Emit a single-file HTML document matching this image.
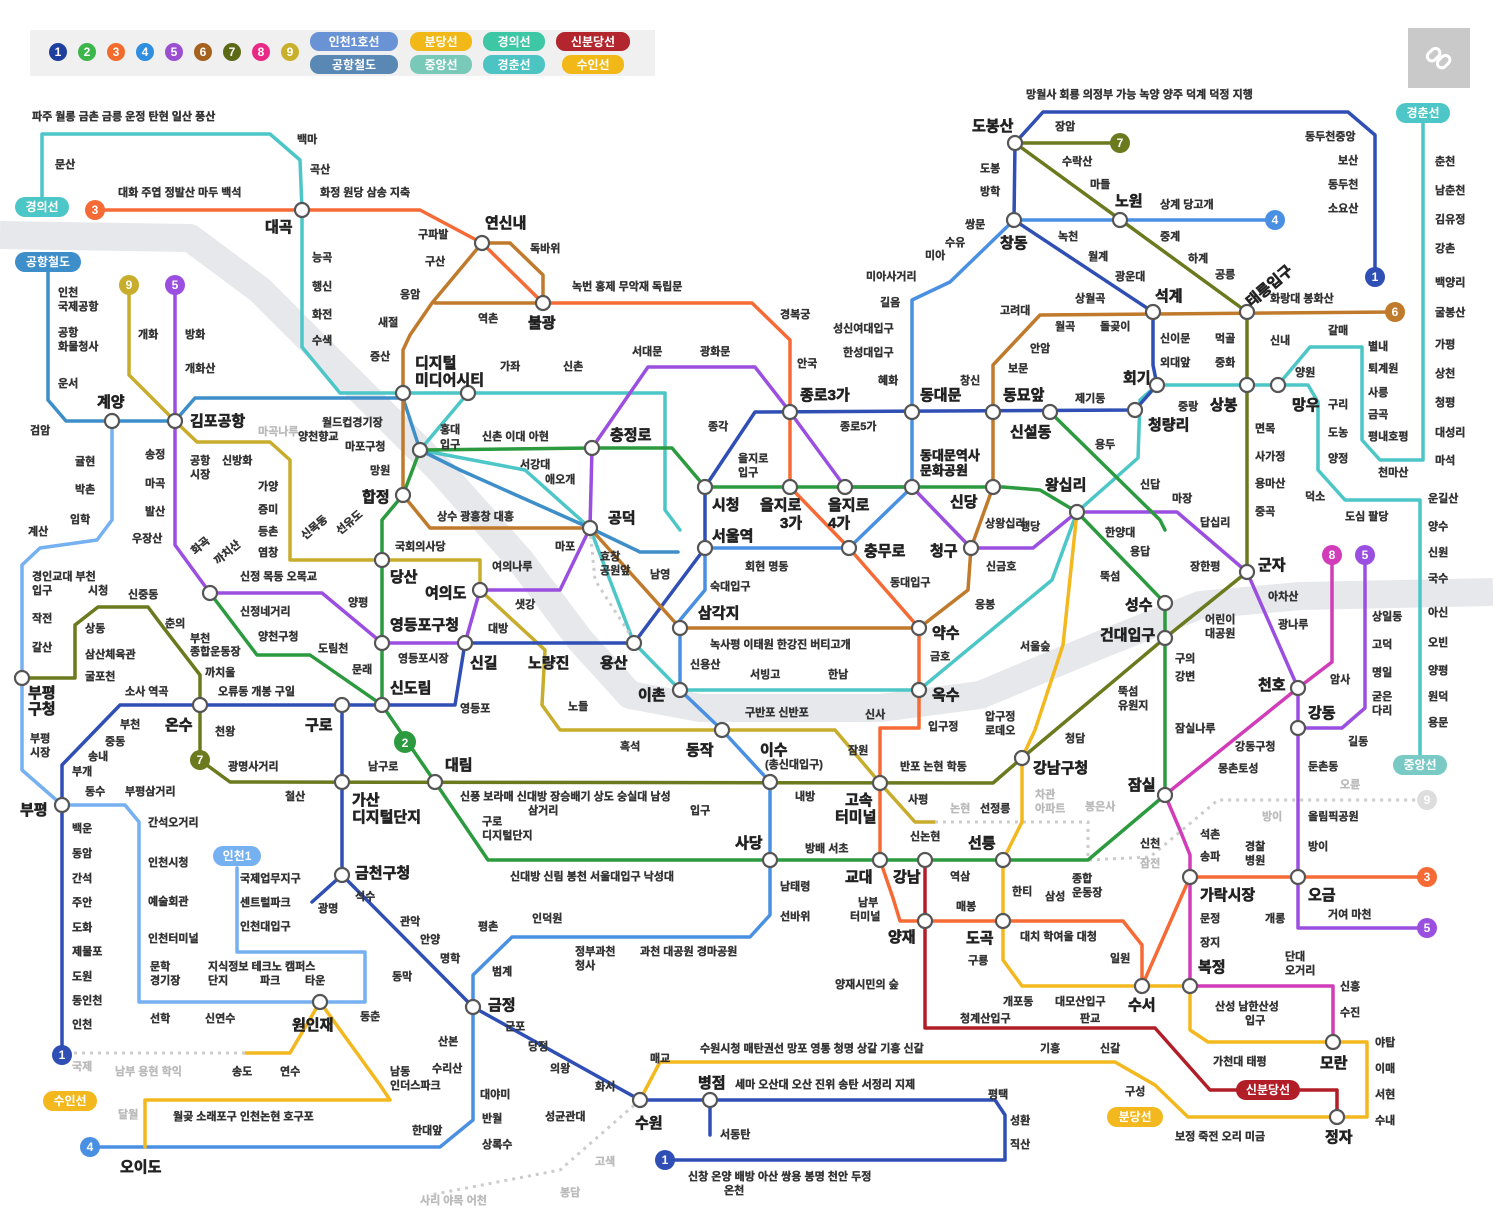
<!DOCTYPE html>
<html><head><meta charset="utf-8"><style>
html,body{margin:0;padding:0;background:#fff;}
svg{display:block;}
text{font-family:"Liberation Sans","Noto Sans CJK KR","NanumGothic",sans-serif;font-weight:bold;fill:#333;font-size:11px;stroke:#333;stroke-width:0.35;}
.b text, text.b{font-size:15px;fill:#222;stroke:#222;stroke-width:0.6;}
text.g{fill:#bbb;stroke:#bbb;}
text.w{fill:#fff;stroke:none;font-size:12px;text-anchor:middle;}
.l{fill:none;stroke-width:3.5;stroke-linejoin:round;stroke-linecap:round;}
.t{fill:#fff;stroke:#555;stroke-width:2.2;}
</style></head><body>
<svg width="1493" height="1209" viewBox="0 0 1493 1209" xmlns="http://www.w3.org/2000/svg">
<polyline points="0,235 190,238 260,290 350,380 440,470 520,560 580,640 630,695 700,708 880,708 980,695 1100,645 1200,605 1300,596 1493,592" fill="none" stroke="#e6e8eb" stroke-width="28" stroke-linejoin="round"/>

<rect x="30" y="30" width="625" height="46" fill="#f0f0f0"/>
<g>
<circle cx="58" cy="52" r="9" fill="#1e3f9e"/><text x="58" y="56" class="w">1</text>
<circle cx="87" cy="52" r="9" fill="#3cb54a"/><text x="87" y="56" class="w">2</text>
<circle cx="116" cy="52" r="9" fill="#f26b2a"/><text x="116" y="56" class="w">3</text>
<circle cx="145" cy="52" r="9" fill="#2f8ee0"/><text x="145" y="56" class="w">4</text>
<circle cx="174" cy="52" r="9" fill="#9b4fd0"/><text x="174" y="56" class="w">5</text>
<circle cx="203" cy="52" r="9" fill="#a5611e"/><text x="203" y="56" class="w">6</text>
<circle cx="232" cy="52" r="9" fill="#5c6a17"/><text x="232" y="56" class="w">7</text>
<circle cx="261" cy="52" r="9" fill="#e82a86"/><text x="261" y="56" class="w">8</text>
<circle cx="290" cy="52" r="9" fill="#c9b02c"/><text x="290" y="56" class="w">9</text>
<rect x="310" y="32" width="88" height="19" rx="9" fill="#6a93d6"/><text x="354" y="46" class="w">인천1호선</text>
<rect x="310" y="55" width="88" height="19" rx="9" fill="#5a88b5"/><text x="354" y="69" class="w">공항철도</text>
<rect x="410" y="32" width="62" height="19" rx="9" fill="#f2b818"/><text x="441" y="46" class="w">분당선</text>
<rect x="410" y="55" width="62" height="19" rx="9" fill="#79c9b9"/><text x="441" y="69" class="w">중앙선</text>
<rect x="483" y="32" width="62" height="19" rx="9" fill="#3ec7a5"/><text x="514" y="46" class="w">경의선</text>
<rect x="483" y="55" width="62" height="19" rx="9" fill="#4cc4c4"/><text x="514" y="69" class="w">경춘선</text>
<rect x="556" y="32" width="74" height="19" rx="9" fill="#b3262e"/><text x="593" y="46" class="w">신분당선</text>
<rect x="562" y="55" width="62" height="19" rx="9" fill="#f2b818"/><text x="593" y="69" class="w">수인선</text>
</g>
<rect x="1408" y="28" width="62" height="60" fill="#c9c9c9"/>
<g fill="none" stroke="#fff" stroke-width="3" stroke-linecap="round"><rect x="1427" y="50" width="14" height="9" rx="4.5" transform="rotate(-45 1434 55)"/><rect x="1437" y="57" width="14" height="9" rx="4.5" transform="rotate(-45 1444 62)"/></g>

<g class="l" stroke="#4cc6c6">
<polyline points="42,197 42,134 270,134 300,160 302,210 302,347 340,393 665,393 665,510 680,530"/>
<polyline points="468,393 420,450 525,470 590,528 634,643 680,690 919,690 1052,580 1077,512 1138,458 1140,400 1157,385 1278,385 1308,385 1318,402 1318,470 1345,500 1420,500 1420,760"/>
<polyline points="1278,385 1310,347 1362,347 1362,440 1380,460 1423,460 1423,122"/>
</g>
<polyline class="l" stroke="#3d8ec9" points="48,272 48,400 66,421 175,421 195,398 403,398 420,450 460,470 590,528 640,552 678,552"/>
<polyline class="l" stroke="#75b0f0" stroke-width="3" points="112,421 112,520 97,540 40,548 22,565 22,770 62,805 125,805 139,822 139,1002 365,1002 365,952 237,952 237,868"/>
<polyline class="l" stroke="#c8ac2c" points="129,290 129,375 175,421 197,442 270,442 290,460 290,560 480,560 480,590 545,650 542,705 560,730 835,730 880,783 915,822 935,822"/>
<polyline fill="none" stroke="#ccc" stroke-width="3" stroke-dasharray="3,5" points="935,822 1088,822 1088,860 1150,857 1218,800 1420,800"/>
<g class="l" stroke="#2f4fb5">
<polyline points="1375,275 1375,135 1348,112 1043,112 1015,143 1014,220 1153,312 1153,365 1157,385 1135,410 755,412 705,487 705,548 634,643 465,643 455,705 120,705 62,765 62,1055"/>
<polyline points="342,705 342,875 473,1007 640,1100 710,1100 710,1135"/>
<polyline points="342,875 312,902"/>
<polyline points="710,1100 995,1100 1005,1115 1005,1160 665,1160"/>
</g>
<polyline class="l" stroke="#4a90e2" points="1275,220 1014,220 950,282 912,300 912,487 849,548 705,548 705,590 680,620 680,690 722,730 770,782 770,915 750,937 512,937 473,975 473,1120 440,1147 90,1147"/>
<polyline class="l" stroke="#f56a35" points="95,210 420,210 482,243 543,303 752,303 790,340 790,487 849,548 919,628 919,728 880,728 880,860 893,898 900,921 1123,921 1142,945 1142,986 1190,877 1427,877"/>
<g class="l" stroke="#c07a2b">
<polyline points="482,243 510,243 543,275 543,303 435,303"/>
<polyline points="482,243 432,303 410,335 403,350 403,495 430,528 590,528 680,628 919,628 968,590 971,548 993,487 993,365 1040,315 1395,312"/>
</g>
<polyline class="l" stroke="#9b4fe0" points="175,290 175,545 210,593 322,593 382,643 465,643 480,590 560,590 590,528 592,448 648,367 755,367 790,412 845,487 912,487 971,548 1033,548 1077,512 1177,512 1247,572 1298,688 1298,728 1342,728 1365,708 1365,560"/>
<polyline class="l" stroke="#9b4fe0" points="1298,728 1298,928 1427,928"/>
<g class="l" stroke="#2c9a3f">
<polyline points="705,487 1003,487 1040,490 1077,512 1165,603 1165,795 1088,860 880,860 770,860 488,860 435,782 382,705 382,560 382,520 403,495 420,450 592,448 672,448 705,487"/>
<polyline points="1050,412 1160,520 1165,530"/>
<polyline points="210,593 257,655 310,655 382,705"/>
</g>
<polyline class="l" stroke="#6b7a1e" points="1120,143 1015,143 1247,312 1247,572 1165,638 1022,758 993,783 230,782 200,760 200,705 200,675 163,627 148,607 98,607 75,625 75,678 22,678"/>
<polyline class="l" stroke="#d13cb8" points="1332,560 1332,662 1298,688 1165,795 1180,830 1190,855 1190,986 1333,986 1333,1042"/>
<polyline class="l" stroke="#f3b81e" points="1077,512 1063,645 1035,730 1022,758 1022,822 1003,860 1003,960 1022,986 1190,986 1190,1030 1208,1042 1367,1042 1367,1117 1188,1117 1155,1085 1115,1062 660,1062 640,1100"/>
<polyline class="l" stroke="#f3b81e" points="320,1002 290,1053 245,1053"/>
<polyline class="l" stroke="#f3b81e" points="320,1002 380,1085 390,1100 145,1100 145,1147"/>
<polyline fill="none" stroke="#ccc" stroke-width="3" stroke-dasharray="3,5" points="245,1053 70,1053"/>
<polyline fill="none" stroke="#ccc" stroke-width="3" stroke-dasharray="3,5" points="590,528 595,580 640,650"/>
<polyline fill="none" stroke="#ccc" stroke-width="3" stroke-dasharray="3,5" points="640,1100 560,1170 430,1195"/>
<polyline class="l" stroke="#b21e28" points="925,860 925,1028 1155,1028 1210,1090 1337,1090 1337,1117"/>

<g class="t">
<circle cx="1015" cy="143" r="7"/><circle cx="1014" cy="220" r="7"/><circle cx="1120" cy="220" r="7"/><circle cx="1153" cy="312" r="7"/><circle cx="1247" cy="312" r="7"/><circle cx="1247" cy="385" r="7"/><circle cx="1278" cy="385" r="7"/><circle cx="1157" cy="385" r="7"/><circle cx="1135" cy="410" r="7"/><circle cx="1050" cy="412" r="7"/><circle cx="993" cy="412" r="7"/><circle cx="912" cy="412" r="7"/><circle cx="790" cy="412" r="7"/>
<circle cx="705" cy="487" r="7"/><circle cx="790" cy="487" r="7"/><circle cx="845" cy="487" r="7"/><circle cx="912" cy="487" r="7"/><circle cx="993" cy="487" r="7"/><circle cx="1077" cy="512" r="7"/><circle cx="971" cy="548" r="7"/><circle cx="849" cy="548" r="7"/><circle cx="705" cy="548" r="7"/><circle cx="592" cy="448" r="7"/><circle cx="590" cy="528" r="7"/><circle cx="680" cy="628" r="7"/><circle cx="919" cy="628" r="7"/><circle cx="919" cy="690" r="7"/><circle cx="634" cy="643" r="7"/><circle cx="680" cy="690" r="7"/>
<circle cx="465" cy="643" r="7"/><circle cx="480" cy="590" r="7"/><circle cx="382" cy="643" r="7"/><circle cx="382" cy="560" r="7"/><circle cx="403" cy="495" r="7"/><circle cx="420" cy="450" r="7"/><circle cx="403" cy="393" r="7"/><circle cx="468" cy="393" r="7"/><circle cx="482" cy="243" r="7"/><circle cx="543" cy="303" r="7"/><circle cx="302" cy="210" r="7"/><circle cx="175" cy="421" r="7"/><circle cx="112" cy="421" r="7"/><circle cx="210" cy="593" r="7"/>
<circle cx="382" cy="705" r="7"/><circle cx="342" cy="705" r="7"/><circle cx="200" cy="705" r="7"/><circle cx="22" cy="678" r="7"/><circle cx="62" cy="805" r="7"/><circle cx="435" cy="782" r="7"/><circle cx="342" cy="782" r="7"/><circle cx="342" cy="875" r="7"/><circle cx="473" cy="1007" r="7"/><circle cx="640" cy="1100" r="7"/><circle cx="710" cy="1100" r="7"/><circle cx="320" cy="1002" r="7"/>
<circle cx="722" cy="730" r="7"/><circle cx="770" cy="782" r="7"/><circle cx="770" cy="860" r="7"/><circle cx="880" cy="783" r="7"/><circle cx="880" cy="860" r="7"/><circle cx="925" cy="860" r="7"/><circle cx="925" cy="921" r="7"/><circle cx="1003" cy="921" r="7"/><circle cx="1003" cy="860" r="7"/><circle cx="1022" cy="758" r="7"/><circle cx="1165" cy="603" r="7"/><circle cx="1165" cy="638" r="7"/><circle cx="1247" cy="572" r="7"/><circle cx="1298" cy="688" r="7"/><circle cx="1298" cy="728" r="7"/><circle cx="1165" cy="795" r="7"/><circle cx="1190" cy="877" r="7"/><circle cx="1298" cy="877" r="7"/><circle cx="1142" cy="986" r="7"/><circle cx="1190" cy="986" r="7"/><circle cx="1333" cy="1042" r="7"/><circle cx="1337" cy="1117" r="7"/>
</g>

<g>
<circle cx="1375" cy="277" r="10" fill="#2f4fb5"/><text x="1375" y="281" class="w">1</text>
<circle cx="1275" cy="220" r="10" fill="#4a90e2"/><text x="1275" y="224" class="w">4</text>
<circle cx="1395" cy="312" r="10" fill="#c07a2b"/><text x="1395" y="316" class="w">6</text>
<circle cx="1120" cy="143" r="10" fill="#6b7a1e"/><text x="1120" y="147" class="w">7</text>
<circle cx="95" cy="210" r="10" fill="#f56a35"/><text x="95" y="214" class="w">3</text>
<circle cx="129" cy="285" r="10" fill="#c8ac2c"/><text x="129" y="289" class="w">9</text>
<circle cx="175" cy="285" r="10" fill="#9b4fe0"/><text x="175" y="289" class="w">5</text>
<circle cx="405" cy="742" r="11" fill="#2c9a3f"/><text x="405" y="747" class="w">2</text>
<circle cx="200" cy="760" r="10" fill="#6b7a1e"/><text x="200" y="764" class="w">7</text>
<circle cx="1332" cy="555" r="10" fill="#d13cb8"/><text x="1332" y="559" class="w">8</text>
<circle cx="1365" cy="555" r="10" fill="#9b4fe0"/><text x="1365" y="559" class="w">5</text>
<circle cx="1427" cy="877" r="10" fill="#f56a35"/><text x="1427" y="881" class="w">3</text>
<circle cx="1427" cy="928" r="10" fill="#9b4fe0"/><text x="1427" y="932" class="w">5</text>
<circle cx="1427" cy="800" r="10" fill="#ddd"/><text x="1427" y="804" class="w">9</text>
<circle cx="62" cy="1055" r="10" fill="#2f4fb5"/><text x="62" y="1059" class="w">1</text>
<circle cx="90" cy="1147" r="10" fill="#4a90e2"/><text x="90" y="1151" class="w">4</text>
<circle cx="665" cy="1160" r="10" fill="#2f4fb5"/><text x="665" y="1164" class="w">1</text>
</g>
<g>
<rect x="15" y="197" width="54" height="20" rx="10" fill="#4cc6c6"/><text x="42" y="211" class="w">경의선</text>
<rect x="15" y="252" width="66" height="20" rx="10" fill="#3d8ec9"/><text x="48" y="266" class="w">공항철도</text>
<rect x="1396" y="103" width="54" height="20" rx="10" fill="#4cc6c6"/><text x="1423" y="117" class="w">경춘선</text>
<rect x="1393" y="755" width="54" height="20" rx="10" fill="#79c9c4"/><text x="1420" y="769" class="w">중앙선</text>
<rect x="213" y="846" width="48" height="20" rx="10" fill="#75b0f0"/><text x="237" y="860" class="w">인천1</text>
<rect x="43" y="1091" width="54" height="20" rx="10" fill="#f3b81e"/><text x="70" y="1105" class="w">수인선</text>
<rect x="1107" y="1107" width="56" height="20" rx="10" fill="#f3b81e"/><text x="1135" y="1121" class="w">분당선</text>
<rect x="1236" y="1080" width="64" height="20" rx="10" fill="#b21e28"/><text x="1268" y="1094" class="w">신분당선</text>
</g>

<g class="b">
<text x="972" y="131">도봉산</text><text x="1115" y="206">노원</text><text x="1000" y="248">창동</text><text x="1155" y="301">석계</text><text x="1123" y="383">회기</text><text x="1148" y="430">청량리</text><text x="1292" y="410">망우</text><text x="1210" y="410">상봉</text>
<text x="800" y="400">종로3가</text><text x="920" y="400">동대문</text><text x="1003" y="400">동묘앞</text><text x="1010" y="437">신설동</text><text x="920" y="460" style="font-size:13px">동대문역사</text><text x="920" y="475" style="font-size:13px">문화공원</text>
<text x="712" y="510">시청</text><text x="760" y="510">을지로</text><text x="780" y="528">3가</text><text x="828" y="510">을지로</text><text x="828" y="528">4가</text><text x="950" y="507">신당</text><text x="1045" y="490">왕십리</text><text x="930" y="556">청구</text><text x="864" y="556">충무로</text><text x="712" y="541">서울역</text><text x="608" y="523">공덕</text><text x="610" y="440">충정로</text><text x="698" y="618">삼각지</text><text x="932" y="638">약수</text><text x="932" y="700">옥수</text><text x="528" y="668">노량진</text><text x="600" y="668">용산</text><text x="638" y="700">이촌</text>
<text x="415" y="368">디지털</text><text x="415" y="385">미디어시티</text><text x="485" y="228">연신내</text><text x="528" y="328">불광</text><text x="265" y="232">대곡</text><text x="190" y="426">김포공항</text><text x="97" y="407">계양</text>
<text x="362" y="502">합정</text><text x="390" y="582">당산</text><text x="425" y="598">여의도</text><text x="390" y="630">영등포구청</text><text x="470" y="668">신길</text><text x="390" y="693">신도림</text><text x="305" y="730">구로</text><text x="165" y="730">온수</text><text x="28" y="698">부평</text><text x="28" y="714">구청</text><text x="20" y="815">부평</text><text x="445" y="770">대림</text>
<text x="352" y="805">가산</text><text x="352" y="822">디지털단지</text><text x="355" y="878">금천구청</text><text x="488" y="1010">금정</text><text x="635" y="1128">수원</text><text x="698" y="1088">병점</text><text x="292" y="1030">원인재</text><text x="120" y="1172">오이도</text>
<text x="686" y="755">동작</text><text x="760" y="755">이수</text><text x="735" y="848">사당</text><text x="845" y="805">고속</text><text x="835" y="822">터미널</text><text x="845" y="882">교대</text><text x="893" y="882">강남</text><text x="888" y="942">양재</text><text x="966" y="943">도곡</text><text x="968" y="848">선릉</text><text x="1033" y="773">강남구청</text><text x="1125" y="610">성수</text><text x="1100" y="640">건대입구</text><text x="1258" y="570">군자</text><text x="1258" y="690">천호</text><text x="1308" y="718">강동</text><text x="1128" y="790">잠실</text><text x="1200" y="900">가락시장</text><text x="1308" y="900">오금</text><text x="1128" y="1010">수서</text><text x="1198" y="972">복정</text><text x="1320" y="1068">모란</text><text x="1325" y="1142">정자</text>
</g>

<g>
<text x="32" y="120">파주 월롱 금촌 금릉 운정 탄현 일산 풍산</text><text x="297" y="143">백마</text><text x="55" y="168">문산</text><text x="310" y="173">곡산</text>
<text x="118" y="196">대화 주엽 정발산 마두 백석</text><text x="320" y="196">화정 원당 삼송 지축</text>
<text x="418" y="238">구파발</text><text x="425" y="265">구산</text><text x="400" y="298">응암</text><text x="378" y="326">새절</text><text x="370" y="360">증산</text><text x="530" y="252">독바위</text><text x="478" y="322">역촌</text>
<text x="312" y="261">능곡</text><text x="312" y="290">행신</text><text x="312" y="318">화전</text><text x="312" y="344">수색</text>
<text x="58" y="296">인천</text><text x="58" y="310">국제공항</text><text x="58" y="336">공항</text><text x="58" y="350">화물청사</text><text x="58" y="387">운서</text><text x="30" y="434">검암</text>
<text x="138" y="338">개화</text><text x="185" y="338">방화</text><text x="185" y="372">개화산</text>
<text x="145" y="458">송정</text><text x="145" y="487">마곡</text><text x="145" y="515">발산</text><text x="132" y="542">우장산</text><text x="190" y="464">공항</text><text x="190" y="478">시장</text><text x="222" y="464">신방화</text><text x="258" y="435" class="g">마곡나루</text><text x="298" y="440">양천향교</text><text x="258" y="490">가양</text><text x="258" y="513">증미</text><text x="258" y="535">등촌</text><text x="258" y="556">염창</text>
<text x="322" y="426">월드컵경기장</text><text x="345" y="450">마포구청</text><text x="370" y="474">망원</text><text x="440" y="433">홍대</text><text x="440" y="448">입구</text><text x="482" y="440">신촌 이대 아현</text><text x="520" y="468">서강대</text><text x="545" y="483">애오개</text><text x="437" y="520">상수 광흥창 대흥</text><text x="395" y="550">국회의사당</text><text x="500" y="370">가좌</text><text x="563" y="370">신촌</text>
<text x="572" y="290">녹번 홍제 무악재 독립문</text><text x="780" y="318">경복궁</text><text x="797" y="367">안국</text><text x="632" y="355">서대문</text><text x="700" y="355">광화문</text><text x="708" y="430">종각</text><text x="840" y="430">종로5가</text><text x="738" y="462">을지로</text><text x="738" y="476">입구</text>
<text x="866" y="280">미아사거리</text><text x="880" y="306">길음</text><text x="833" y="332">성신여대입구</text><text x="843" y="356">한성대입구</text><text x="878" y="384">혜화</text><text x="925" y="259">미아</text><text x="945" y="246">수유</text><text x="965" y="228">쌍문</text><text x="980" y="195">방학</text><text x="980" y="172">도봉</text><text x="1055" y="130">장암</text><text x="1062" y="165">수락산</text><text x="1090" y="188">마들</text><text x="1026" y="98">망월사 회룡 의정부 가능 녹양 양주 덕계 덕정 지행</text>
<text x="1160" y="208">상계 당고개</text><text x="1160" y="240">중계</text><text x="1188" y="262">하계</text><text x="1215" y="278">공릉</text><text x="1058" y="240">녹천</text><text x="1088" y="260">월계</text><text x="1115" y="280">광운대</text><text x="1305" y="140">동두천중앙</text><text x="1338" y="164">보산</text><text x="1328" y="188">동두천</text><text x="1328" y="212">소요산</text>
<text x="1000" y="314">고려대</text><text x="1075" y="302">상월곡</text><text x="1055" y="330">월곡</text><text x="1100" y="330">돌곶이</text><text x="1030" y="352">안암</text><text x="1008" y="372">보문</text><text x="960" y="384">창신</text><text x="1160" y="342">신이문</text><text x="1160" y="366">외대앞</text><text x="1215" y="342">먹골</text><text x="1215" y="366">중화</text><text x="1270" y="302">화랑대 봉화산</text><text x="1270" y="344">신내</text><text x="1328" y="334">갈매</text><text x="1368" y="350">별내</text><text x="1368" y="372">퇴계원</text><text x="1368" y="396">사릉</text><text x="1368" y="418">금곡</text><text x="1368" y="440">평내호평</text><text x="1378" y="476">천마산</text><text x="1295" y="376">양원</text><text x="1328" y="408">구리</text><text x="1328" y="436">도농</text><text x="1328" y="462">양정</text><text x="1305" y="500">덕소</text><text x="1345" y="520">도심 팔당</text><text x="1178" y="410">중랑</text><text x="1075" y="402">제기동</text><text x="1095" y="448">용두</text><text x="1140" y="488">신답</text><text x="1172" y="502">마장</text><text x="1200" y="526">답십리</text><text x="1190" y="570">장한평</text><text x="1105" y="536">한양대</text><text x="1130" y="555">용답</text><text x="1100" y="580">뚝섬</text><text x="1255" y="432">면목</text><text x="1255" y="460">사가정</text><text x="1255" y="487">용마산</text><text x="1255" y="515">중곡</text><text x="1268" y="600">아차산</text><text x="1278" y="628">광나루</text><text x="1205" y="623">어린이</text><text x="1205" y="637">대공원</text>
<text x="1435" y="165">춘천</text><text x="1435" y="194">남춘천</text><text x="1435" y="223">김유정</text><text x="1435" y="252">강촌</text><text x="1435" y="286">백양리</text><text x="1435" y="316">굴봉산</text><text x="1435" y="348">가평</text><text x="1435" y="377">상천</text><text x="1435" y="406">청평</text><text x="1435" y="436">대성리</text><text x="1435" y="464">마석</text><text x="1428" y="502">운길산</text><text x="1428" y="530">양수</text><text x="1428" y="556">신원</text><text x="1428" y="582">국수</text><text x="1428" y="616">아신</text><text x="1428" y="646">오빈</text><text x="1428" y="674">양평</text><text x="1428" y="700">원덕</text><text x="1428" y="726">용문</text><text x="1372" y="620">상일동</text><text x="1372" y="648">고덕</text><text x="1372" y="676">명일</text><text x="1372" y="700">굳은</text><text x="1372" y="714">다리</text><text x="1330" y="683">암사</text><text x="1348" y="745">길동</text><text x="1308" y="770">둔촌동</text><text x="1308" y="820">올림픽공원</text><text x="1308" y="850">방이</text><text x="1235" y="750">강동구청</text><text x="1218" y="772">몽촌토성</text><text x="1175" y="680">강변</text><text x="1175" y="662">구의</text><text x="1175" y="732">잠실나루</text><text x="1118" y="695">뚝섬</text><text x="1118" y="709">유원지</text><text x="1340" y="788" class="g">오륜</text><text x="1262" y="820" class="g">방이</text><text x="1200" y="838">석촌</text><text x="1200" y="860">송파</text><text x="1245" y="850">경찰</text><text x="1245" y="864">병원</text><text x="1200" y="922">문정</text><text x="1265" y="922">개롱</text><text x="1200" y="946">장지</text><text x="1328" y="918">거여 마천</text><text x="1285" y="960">단대</text><text x="1285" y="974">오거리</text><text x="1340" y="990">신흥</text><text x="1340" y="1016">수진</text><text x="1215" y="1010">산성 남한산성</text><text x="1245" y="1024">입구</text><text x="1213" y="1065">가천대 태평</text><text x="1375" y="1046">야탑</text><text x="1375" y="1072">이매</text><text x="1375" y="1098">서현</text><text x="1375" y="1124">수내</text><text x="1175" y="1140">보정 죽전 오리 미금</text><text x="1125" y="1095">구성</text><text x="1100" y="1052">신갈</text><text x="1040" y="1052">기흥</text>
<text x="1140" y="867" class="g">잠전</text><text x="1140" y="847">신천</text><text x="1045" y="900">삼성</text><text x="1072" y="882">종합</text><text x="1072" y="896">운동장</text><text x="1012" y="895">한티</text><text x="950" y="880">역삼</text><text x="956" y="910">매봉</text><text x="1020" y="940">대치 학여울 대청</text><text x="1110" y="962">일원</text><text x="968" y="964">구룡</text><text x="1003" y="1005">개포동</text><text x="1055" y="1005">대모산입구</text><text x="960" y="1022">청계산입구</text><text x="1080" y="1022">판교</text><text x="835" y="988">양재시민의 숲</text><text x="858" y="906">남부</text><text x="850" y="920">터미널</text><text x="805" y="852">방배 서초</text><text x="910" y="840">신논현</text><text x="950" y="812" class="g">논현</text><text x="980" y="812">선정릉</text><text x="1035" y="798" class="g">차관</text><text x="1035" y="812" class="g">아파트</text><text x="1085" y="810" class="g">봉은사</text><text x="900" y="770">반포 논현 학동</text><text x="908" y="803">사평</text><text x="1065" y="742">청담</text><text x="985" y="720">압구정</text><text x="985" y="734">로데오</text><text x="928" y="730">입구정</text><text x="865" y="718">신사</text><text x="848" y="754">잠원</text><text x="930" y="660">금호</text><text x="975" y="608">응봉</text><text x="1020" y="650">서울숲</text><text x="985" y="527">상왕십리</text><text x="986" y="570">신금호</text><text x="1020" y="530">행당</text><text x="890" y="586">동대입구</text><text x="710" y="648">녹사평 이태원 한강진 버티고개</text><text x="690" y="668">신용산</text><text x="750" y="678">서빙고</text><text x="828" y="678">한남</text><text x="745" y="716">구반포 신반포</text><text x="745" y="570">회현 명동</text><text x="710" y="590">숙대입구</text><text x="650" y="578">남영</text><text x="600" y="560">효창</text><text x="600" y="574">공원앞</text><text x="555" y="550">마포</text><text x="492" y="570">여의나루</text><text x="515" y="608">샛강</text><text x="488" y="632">대방</text><text x="398" y="662">영등포시장</text><text x="460" y="712">영등포</text><text x="568" y="710">노들</text><text x="620" y="750">흑석</text><text x="765" y="768">(총신대입구)</text>
<text x="368" y="770">남구로</text><text x="460" y="800">신풍 보라매 신대방 장승배기 상도 숭실대 남성</text><text x="528" y="814">삼거리</text><text x="690" y="814">입구</text><text x="795" y="800">내방</text><text x="482" y="825">구로</text><text x="482" y="839">디지털단지</text><text x="510" y="880">신대방 신림 봉천 서울대입구 낙성대</text><text x="780" y="890">남태령</text><text x="780" y="920">선바위</text><text x="478" y="930">평촌</text><text x="532" y="922">인덕원</text><text x="575" y="955">정부과천</text><text x="575" y="969">청사</text><text x="640" y="955">과천 대공원 경마공원</text><text x="492" y="975">범계</text><text x="355" y="900">석수</text><text x="400" y="925">관악</text><text x="420" y="943">안양</text><text x="440" y="962">명학</text><text x="505" y="1030">군포</text><text x="528" y="1050">당정</text><text x="550" y="1072">의왕</text><text x="545" y="1120">성균관대</text><text x="595" y="1090">화서</text><text x="438" y="1045">산본</text><text x="432" y="1072">수리산</text><text x="480" y="1098">대야미</text><text x="482" y="1122">반월</text><text x="482" y="1148">상록수</text><text x="412" y="1134">한대앞</text><text x="390" y="1075">남동</text><text x="390" y="1089">인더스파크</text><text x="650" y="1062">매교</text><text x="700" y="1052">수원시청 매탄권선 망포 영통 청명 상갈 기흥 신갈</text><text x="735" y="1088">세마 오산대 오산 진위 송탄 서정리 지제</text><text x="988" y="1098">평택</text><text x="1010" y="1124">성환</text><text x="1010" y="1148">직산</text><text x="720" y="1138">서동탄</text><text x="688" y="1180">신창 온양 배방 아산 쌍용 봉명 천안 두정</text><text x="724" y="1194">온천</text><text x="595" y="1165" class="g">고색</text><text x="560" y="1196" class="g">봉담</text><text x="420" y="1204" class="g">사리 야목 어천</text>
<text x="392" y="980">동막</text><text x="360" y="1020">동춘</text><text x="240" y="882">국제업무지구</text><text x="240" y="906">센트럴파크</text><text x="240" y="930">인천대입구</text><text x="318" y="912">광명</text><text x="150" y="970">문학</text><text x="150" y="984">경기장</text><text x="208" y="970">지식정보 테크노 캠퍼스</text><text x="208" y="984">단지</text><text x="260" y="984">파크</text><text x="305" y="984">타운</text><text x="150" y="1022">선학</text><text x="205" y="1022">신연수</text><text x="232" y="1075">송도</text><text x="280" y="1075">연수</text><text x="115" y="1075" class="g">남부 용현 학익</text><text x="72" y="1070" class="g">국제</text><text x="173" y="1120">월곶 소래포구 인천논현 호구포</text><text x="118" y="1118" class="g">달월</text><text x="148" y="826">간석오거리</text><text x="148" y="866">인천시청</text><text x="148" y="905">예술회관</text><text x="148" y="942">인천터미널</text><text x="72" y="832">백운</text><text x="72" y="857">동암</text><text x="72" y="882">간석</text><text x="72" y="906">주안</text><text x="72" y="931">도화</text><text x="72" y="955">제물포</text><text x="72" y="980">도원</text><text x="72" y="1004">동인천</text><text x="72" y="1028">인천</text><text x="85" y="795">동수</text><text x="125" y="795">부평삼거리</text><text x="72" y="775">부개</text><text x="88" y="760">송내</text><text x="105" y="745">중동</text><text x="120" y="728">부천</text><text x="215" y="735">천왕</text><text x="228" y="770">광명사거리</text><text x="285" y="800">철산</text><text x="125" y="695">소사 역곡</text><text x="218" y="695">오류동 개봉 구일</text><text x="205" y="676">까치울</text><text x="190" y="642">부천</text><text x="190" y="655">종합운동장</text><text x="165" y="627">춘의</text><text x="128" y="598">신중동</text><text x="85" y="632">상동</text><text x="85" y="658">삼산체육관</text><text x="85" y="680">굴포천</text><text x="32" y="580">경인교대 부천</text><text x="32" y="594">입구</text><text x="88" y="594">시청</text><text x="32" y="622">작전</text><text x="32" y="651">갈산</text><text x="30" y="742">부평</text><text x="30" y="756">시장</text><text x="75" y="465">귤현</text><text x="75" y="493">박촌</text><text x="70" y="523">임학</text><text x="28" y="535">계산</text><text x="240" y="580">신정 목동 오목교</text><text x="348" y="606">양평</text><text x="240" y="615">신정네거리</text><text x="258" y="640">양천구청</text><text x="318" y="652">도림천</text><text x="352" y="673">문래</text><text x="218" y="565" transform="rotate(-40 218 565)">까치산</text><text x="195" y="555" transform="rotate(-40 195 555)">화곡</text><text x="305" y="540" transform="rotate(-40 305 540)">신목동</text><text x="340" y="535" transform="rotate(-40 340 535)">선유도</text>
<text x="1245" y="310" class="b" transform="rotate(-40 1245 300)">태릉입구</text>
</g>
</svg>
</body></html>
